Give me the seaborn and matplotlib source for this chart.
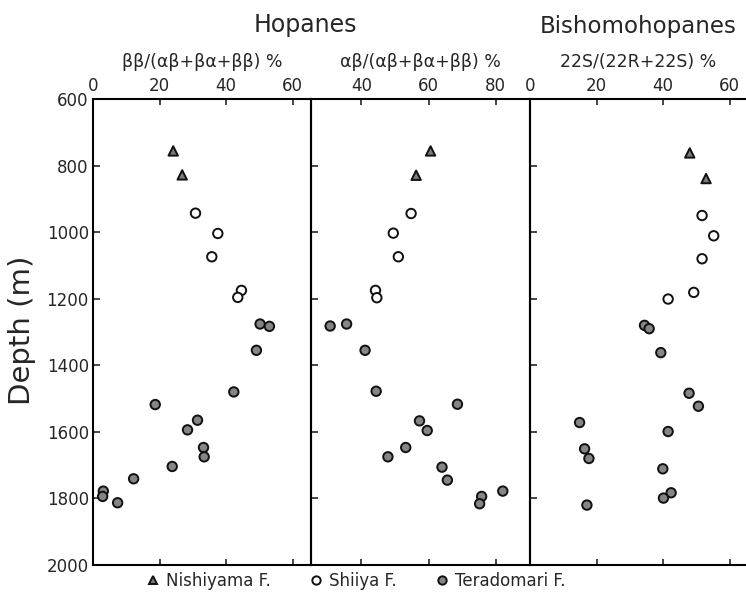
import matplotlib
matplotlib.use("Agg")
import matplotlib.pyplot as plt
import seaborn as sns
import pandas as pd
import numpy as np

# ---- data ----
formations = ["Nishiyama F.", "Shiiya F.", "Teradomari F."]

# Panel 1: bb/(ab+ba+bb) %
p1_nishi_x = [24.1, 26.8]
p1_nishi_d = [756, 828]
p1_shiiya_x = [30.8, 37.5, 35.7, 44.6, 43.5]
p1_shiiya_d = [943, 1004, 1074, 1175, 1196]
p1_tera_x = [50.2, 53.0, 49.1, 42.3, 18.7, 31.4, 28.4, 33.2, 33.4, 23.8, 12.2, 3.1, 2.9, 7.4]
p1_tera_d = [1276, 1283, 1355, 1480, 1518, 1565, 1594, 1647, 1675, 1704, 1741, 1778, 1794, 1813]

# Panel 2: ab/(ab+ba+bb) %
p2_nishi_x = [60.6, 56.3]
p2_nishi_d = [756, 829]
p2_shiiya_x = [54.8, 49.5, 51.0, 44.2, 44.6]
p2_shiiya_d = [944, 1003, 1074, 1175, 1197]
p2_tera_x = [30.7, 35.6, 41.1, 44.4, 68.6, 57.3, 59.6, 53.2, 47.9, 64.0, 65.6, 75.8, 75.2, 82.1]
p2_tera_d = [1282, 1276, 1355, 1478, 1517, 1567, 1596, 1647, 1675, 1706, 1745, 1794, 1816, 1778]

# Panel 3: 22S/(22R+22S) %
p3_nishi_x = [48.0, 52.9]
p3_nishi_d = [762, 839]
p3_shiiya_x = [51.7, 55.2, 51.7, 49.2, 41.5]
p3_shiiya_d = [950, 1011, 1080, 1181, 1201]
p3_tera_x = [34.4, 35.8, 39.3, 47.8, 50.6, 14.9, 41.5, 16.4, 17.7, 39.9, 42.4, 40.1, 17.1]
p3_tera_d = [1280, 1290, 1362, 1484, 1523, 1572, 1599, 1651, 1680, 1711, 1783, 1799, 1820]

panel_titles = ["\u03b2\u03b2/(\u03b1\u03b2+\u03b2\u03b1+\u03b2\u03b2) %",
                "\u03b1\u03b2/(\u03b1\u03b2+\u03b2\u03b1+\u03b2\u03b2) %",
                "22S/(22R+22S) %"]
group_titles = ["Hopanes", "Bishomohopanes"]
y_ticks = [600, 800, 1000, 1200, 1400, 1600, 1800, 2000]
x_ticks = [[0, 20, 40, 60], [40, 60, 80], [0, 20, 40, 60]]


def frame(nx, nd, sx, sd, tx, td):
    rows = []
    for f, xs, ds in zip(formations, [nx, sx, tx], [nd, sd, td]):
        for x, d in zip(xs, ds):
            rows.append({"formation": f, "value": x, "depth": d})
    return pd.DataFrame(rows)


dfs = [frame(p1_nishi_x, p1_nishi_d, p1_shiiya_x, p1_shiiya_d, p1_tera_x, p1_tera_d),
       frame(p2_nishi_x, p2_nishi_d, p2_shiiya_x, p2_shiiya_d, p2_tera_x, p2_tera_d),
       frame(p3_nishi_x, p3_nishi_d, p3_shiiya_x, p3_shiiya_d, p3_tera_x, p3_tera_d)]

# ---- style ----
sns.set_style("white")
plt.rcParams["font.family"] = ["DejaVu Sans"]

palette = {"Nishiyama F.": "#7a7a7a", "Shiiya F.": "white", "Teradomari F.": "#858585"}
markers = {"Nishiyama F.": "^", "Shiiya F.": "o", "Teradomari F.": "o"}

W, H = 746, 595
fig = plt.figure(figsize=(W / 100, H / 100), dpi=100)

top = 1 - 99 / H
bottom = 1 - 565 / H
h = top - bottom
lefts = [93, 311, 530]
rights = [311, 530, 746]
xlims = [(0, 65.5), (25, 90.2), (0, 64.9)]

axes = []
for i in range(3):
    ax = fig.add_axes([lefts[i] / W, bottom, (rights[i] - lefts[i]) / W, h])
    axes.append(ax)
    sns.scatterplot(data=dfs[i], x="value", y="depth", hue="formation", style="formation",
                    palette=palette, markers=markers, hue_order=formations,
                    style_order=formations, s=46, edgecolor="#111111", linewidth=1.4,
                    ax=ax, legend=(i == 0), clip_on=False, zorder=3)
    ax.set_xlim(*xlims[i])
    ax.set_ylim(2000, 600)
    ax.set_xticks(x_ticks[i])
    ax.set_yticks(y_ticks)
    ax.set_xlabel("")
    ax.set_ylabel("")
    ax.tick_params(axis="x", which="both", top=True, bottom=True, labeltop=True,
                   labelbottom=False, direction="in", length=4, width=1.2,
                   labelsize=12, pad=3)
    ax.tick_params(axis="y", left=True, right=False, direction="in", length=5,
                   width=1.2, labelsize=12, labelleft=(i == 0), pad=3)
    for s in ax.spines.values():
        s.set_linewidth(1.5)
        s.set_color("black")
    ax.set_title(panel_titles[i], fontsize=12.5, pad=23)
    ax.patch.set_alpha(0)

axes[2].spines["right"].set_visible(False)

# legend
handles, labels = axes[0].get_legend_handles_labels()
axes[0].get_legend().remove()
for hnd in handles:
    hnd.set_markersize(6)
fig.legend(handles, labels, loc="center", bbox_to_anchor=(355 / W, 1 - 581 / H),
           ncol=3, frameon=False, fontsize=12, handletextpad=0.3, columnspacing=2.2,
           handlelength=1.0)

# group titles
fig.text(305 / W, 1 - 25 / H, group_titles[0], fontsize=17, ha="center", va="center")
fig.text(638 / W, 1 - 27 / H, group_titles[1], fontsize=16.5, ha="center", va="center")

# y label
fig.text(22 / W, 1 - 330 / H, "Depth (m)", rotation=90, fontsize=21,
         ha="center", va="center")

fig.savefig("out.png", dpi=100)
